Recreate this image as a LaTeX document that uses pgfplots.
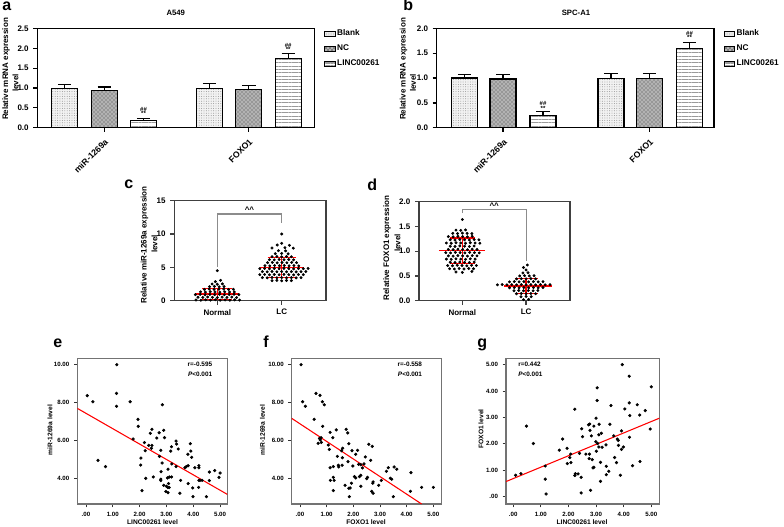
\documentclass[border=0pt]{standalone}
\usepackage{pgfplots}
\pgfplotsset{compat=1.18}
\usepackage{fontspec}
\setmainfont{Liberation Sans}
\usetikzlibrary{patterns,patterns.meta}
\newcommand{\ffs}[1]{\fontsize{#1}{#1}\selectfont\bfseries}
\pgfplotsset{
  /pgf/number format/assume math mode=true,
  barax/.style={scale only axis, anchor=south west, width=208pt, height=74.5pt,
    xmin=-0.462, xmax=1.455, ymin=0,
    xtick={0,1}, xticklabels={miR-1269a,FOXO1},
    x tick label style={rotate=45, anchor=north east, font=\ffs{6.5}},
    y tick label style={font=\ffs{6}},
    tick align=outside, tick pos=left, major tick length=3pt,
    axis line style={line width=0.9pt}, every tick/.style={black, line width=0.9pt},
    legend style={at={(1,1)}, anchor=north west, xshift=7pt, yshift=0pt, draw=none, fill=none,
      font=\ffs{6.2}, row sep=3.3pt, inner sep=0pt, nodes={inner sep=1pt}},
    legend cell align=left},
  blank/.style={ybar, bar width=19.5pt, bar shift=0pt, fill=gray!10, draw=black, line width=0.9pt,
    postaction={pattern={Dots[distance=1.8pt, radius=0.35pt]}, pattern color=gray!90},
    legend image code/.code={\draw[fill=gray!10, draw=black, line width=0.7pt, postaction={pattern={Dots[distance=1.5pt, radius=0.3pt]}, pattern color=gray!90}] (0pt,-1.8pt) rectangle (8pt,1.8pt);}},
  nc/.style={ybar, bar width=19.5pt, bar shift=0pt, fill=gray!60, draw=black, line width=0.9pt,
    postaction={pattern=crosshatch dots, pattern color=black!75},
    legend image code/.code={\draw[fill=gray!60, draw=black, line width=0.7pt, postaction={pattern=crosshatch dots, pattern color=black!75}] (0pt,-1.8pt) rectangle (8pt,1.8pt);}},
  linc/.style={ybar, bar width=19.5pt, bar shift=0pt, fill=white, draw=black, line width=0.9pt,
    postaction={pattern={Lines[angle=0, distance=2.5pt, line width=0.45pt]}, pattern color=gray!80},
    legend image code/.code={\draw[fill=white, draw=black, line width=0.7pt, postaction={pattern={Lines[angle=0, distance=1.2pt, line width=0.35pt]}, pattern color=gray!80}] (0pt,-1.8pt) rectangle (8pt,1.8pt);}},
  eb/.style={error bars/.cd, y dir=plus, y explicit,
    error bar style={black, line width=0.9pt, solid},
    error mark options={black, line width=0.9pt, mark size=5pt, rotate=90}},
  swarmax/.style={scale only axis, anchor=south west, ymin=0,
    xtick={0,1}, xticklabels={Normal,LC},
    x tick label style={font=\ffs{6}}, y tick label style={font=\ffs{6}},
    tick align=outside, tick pos=left, major tick length=3pt,
    axis line style={black!75, line width=0.9pt}, every tick/.style={black!75, line width=0.9pt}},
  pts/.style={only marks, mark=*, mark size=0.9pt, black},
  redl/.style={red, line width=1.1pt},
  spssax/.style={scale only axis, anchor=south west, height=109.3pt,
    xtick={0,1,2,3,4,5}, xticklabels={.00,1.00,2.00,3.00,4.00,5.00},
    tick label style={font=\ffs{4.6}},
    tick align=outside, tick pos=left, major tick length=2.5pt,
    axis line style={black!55, line width=0.8pt}, every tick/.style={black!80, line width=0.6pt}},
  spts/.style={only marks, mark=*, mark size=1pt, black},
}
\begin{document}
\begin{tikzpicture}[x=0.75pt,y=0.75pt]
\useasboundingbox (0,0) rectangle (784,526);

% ---------------- panel a ----------------
\begin{axis}[barax, at={(28pt,298.7pt)}, ymax=2.5,
  ytick={0,0.5,1,1.5,2,2.5}, yticklabels={0.0,0.5,1.0,1.5,2.0,2.5}]
\addplot[blank, eb] coordinates {(-0.272,0.99) +- (0,0.09) (0.728,0.99) +- (0,0.12)};
\addlegendentry{Blank}
\addplot[nc, eb] coordinates {(0,0.94) +- (0,0.085) (1,0.97) +- (0,0.10)};
\addlegendentry{NC}
\addplot[linc, eb] coordinates {(0.272,0.19) +- (0,0.05) (1.272,1.74) +- (0,0.12)};
\addlegendentry{LINC00261}
\node[font=\ffs{4.5}] at (axis cs:0.272,0.35) {**};
\node[font=\ffs{4.5}] at (axis cs:0.272,0.46) {\#\#};
\node[font=\ffs{4.5}] at (axis cs:1.272,1.96) {**};
\node[font=\ffs{4.5}] at (axis cs:1.272,2.07) {\#\#};
\end{axis}

% ---------------- panel b ----------------
\begin{axis}[barax, at={(327.5pt,298.7pt)}, xmin=-0.453, xmax=1.44, ymax=2.0,
  ytick={0,0.5,1,1.5,2}, yticklabels={0.0,0.5,1.0,1.5,2.0}]
\addplot[blank, eb] coordinates {(-0.263,1.0) +- (0,0.07) (0.737,0.99) +- (0,0.11)};
\addlegendentry{Blank}
\addplot[nc, eb] coordinates {(0,0.98) +- (0,0.09) (1,0.99) +- (0,0.11)};
\addlegendentry{NC}
\addplot[linc, eb] coordinates {(0.273,0.25) +- (0,0.07) (1.273,1.60) +- (0,0.11)};
\addlegendentry{LINC00261}
\node[font=\ffs{4.5}] at (axis cs:0.273,0.39) {**};
\node[font=\ffs{4.5}] at (axis cs:0.273,0.48) {\#\#};
\node[font=\ffs{4.5}] at (axis cs:1.273,1.81) {**};
\node[font=\ffs{4.5}] at (axis cs:1.273,1.90) {\#\#};
\end{axis}

% ---------------- panel c ----------------
\begin{axis}[swarmax, at={(130.7pt,169pt)}, width=113.8pt, height=75pt,
  xmin=-0.668, xmax=1.688, ymax=15, ytick={0,5,10,15}]
\addplot[black!45, line width=0.8pt] coordinates {(0,5.0) (0,13.0) (1,13.0) (1,11.7)};
\node[font=\ffs{6}] at (axis cs:0.5,13.7) {\textasciicircum\textasciicircum};
\addplot[pts] coordinates {
(-0.33,0.10)(-0.255,0.06)(-0.18,0.12)(-0.105,0.08)(-0.03,0.14)(0.045,0.07)(0.12,0.11)(0.195,0.06)(0.27,0.12)(0.345,0.09)
(-0.30,0.52)(-0.225,0.48)(-0.15,0.55)(-0.075,0.50)(0.00,0.46)(0.075,0.53)(0.15,0.49)(0.225,0.54)(0.30,0.47)
(-0.34,0.90)(-0.265,0.94)(-0.19,0.88)(-0.115,0.93)(-0.04,0.90)(0.035,0.95)(0.11,0.89)(0.185,0.92)(0.26,0.96)(0.335,0.90)
(-0.26,1.32)(-0.185,1.28)(-0.11,1.34)(-0.035,1.30)(0.04,1.27)(0.115,1.33)(0.19,1.29)(0.265,1.31)
(-0.20,1.70)(-0.125,1.74)(-0.05,1.68)(0.025,1.72)(0.10,1.75)(0.175,1.69)(0.25,1.71)
(-0.12,2.10)(-0.045,2.14)(0.03,2.08)(0.105,2.12)
(-0.08,2.50)(0.00,2.46)(0.08,2.52)
(-0.03,2.85)(0.05,3.05)(0.00,4.50)
};
\addplot[pts] coordinates {
(0.85,3.00)(0.925,3.04)(1.00,2.98)(1.075,3.03)(1.15,3.00)
(0.70,3.45)(0.775,3.42)(0.85,3.48)(0.925,3.44)(1.00,3.47)(1.075,3.43)(1.15,3.46)(1.225,3.42)(1.30,3.45)
(0.66,3.90)(0.735,3.93)(0.81,3.88)(0.885,3.92)(0.96,3.89)(1.035,3.94)(1.11,3.90)(1.185,3.87)(1.26,3.92)(1.335,3.90)
(0.70,4.35)(0.775,4.32)(0.85,4.38)(0.925,4.34)(1.00,4.37)(1.075,4.33)(1.15,4.36)(1.225,4.32)(1.30,4.35)(1.375,4.37)
(0.66,4.80)(0.735,4.83)(0.81,4.78)(0.885,4.82)(0.96,4.79)(1.035,4.84)(1.11,4.80)(1.185,4.77)(1.26,4.82)(1.335,4.80)(1.41,4.83)
(0.74,5.25)(0.815,5.22)(0.89,5.28)(0.965,5.24)(1.04,5.27)(1.115,5.23)(1.19,5.26)(1.265,5.22)
(0.78,5.70)(0.855,5.73)(0.93,5.68)(1.005,5.72)(1.08,5.69)(1.155,5.74)(1.23,5.70)
(0.81,6.15)(0.885,6.12)(0.96,6.18)(1.035,6.14)(1.11,6.17)(1.185,6.13)
(0.85,6.60)(0.925,6.63)(1.00,6.58)(1.075,6.62)(1.15,6.59)
(0.90,7.05)(1.00,7.08)(1.10,7.03)
(0.95,7.50)(1.06,7.47)
(0.85,7.90)(1.05,7.95)(1.18,7.88)
(0.93,8.35)(1.12,8.30)(1.00,8.60)(1.00,10.00)
};
\addplot[redl] coordinates {(-0.34,1.0) (0.34,1.0)};
\addplot[redl] coordinates {(-0.23,1.85) (0.23,1.85)};
\addplot[redl] coordinates {(-0.23,0.15) (0.23,0.15)};
\addplot[redl] coordinates {(0,0.15) (0,1.85)};
\addplot[redl] coordinates {(0.67,5.0) (1.34,5.0)};
\addplot[redl] coordinates {(0.78,6.5) (1.22,6.5)};
\addplot[redl] coordinates {(0.78,3.5) (1.22,3.5)};
\addplot[redl] coordinates {(1,3.5) (1,6.5)};
\end{axis}

% ---------------- panel d ----------------
\begin{axis}[swarmax, at={(314.25pt,169pt)}, width=113.3pt, height=74.25pt,
  xmin=-0.68, xmax=1.69, ymax=2, ytick={0,0.5,1,1.5,2}, yticklabels={0.0,0.5,1.0,1.5,2.0}]
\addplot[black!45, line width=0.8pt] coordinates {(0,1.77) (0,1.846) (1,1.846) (1,0.80)};
\node[font=\ffs{6}] at (axis cs:0.5,1.91) {\textasciicircum\textasciicircum};
\addplot[pts] coordinates {
(-0.10,0.58)(0.00,0.57)(0.15,0.59)
(-0.20,0.645)(-0.125,0.64)(-0.05,0.65)(0.025,0.64)(0.10,0.65)(0.175,0.645)
(-0.23,0.71)(-0.155,0.705)(-0.08,0.715)(-0.005,0.71)(0.07,0.705)(0.145,0.715)(0.22,0.71)
(-0.19,0.775)(-0.115,0.77)(-0.04,0.78)(0.035,0.775)(0.11,0.77)(0.185,0.78)
(-0.25,0.84)(-0.175,0.835)(-0.10,0.845)(-0.025,0.84)(0.05,0.835)(0.125,0.845)(0.20,0.84)
(-0.22,0.905)(-0.145,0.90)(-0.07,0.91)(0.005,0.905)(0.08,0.90)(0.155,0.91)(0.23,0.905)
(-0.26,0.97)(-0.185,0.965)(-0.11,0.975)(-0.035,0.97)(0.04,0.965)(0.115,0.975)(0.19,0.97)(0.265,0.965)
(-0.22,1.035)(-0.145,1.03)(-0.07,1.04)(0.005,1.035)(0.08,1.03)(0.155,1.04)(0.23,1.035)
(-0.19,1.10)(-0.115,1.095)(-0.04,1.105)(0.035,1.10)(0.11,1.095)(0.185,1.105)
(-0.25,1.165)(-0.175,1.16)(-0.10,1.17)(-0.025,1.165)(0.05,1.16)(0.125,1.17)(0.20,1.165)(0.275,1.16)
(-0.19,1.23)(-0.115,1.225)(-0.04,1.235)(0.035,1.23)(0.11,1.225)(0.185,1.235)(0.26,1.23)
(-0.22,1.295)(-0.145,1.29)(-0.07,1.30)(0.005,1.295)(0.08,1.29)(0.155,1.30)
(-0.15,1.36)(-0.075,1.355)(0.00,1.365)(0.075,1.36)(0.15,1.355)
(-0.10,1.425)(-0.025,1.42)(0.05,1.43)(0.00,1.64)
};
\addplot[pts] coordinates {
(0.96,0.02)(1.04,0.025)
(0.92,0.08)(1.00,0.085)(1.08,0.08)
(0.85,0.14)(0.925,0.145)(1.00,0.14)(1.075,0.145)(1.15,0.14)
(0.81,0.20)(0.885,0.205)(0.96,0.20)(1.035,0.205)(1.11,0.20)(1.185,0.205)
(0.74,0.26)(0.815,0.265)(0.89,0.26)(0.965,0.265)(1.04,0.26)(1.115,0.265)(1.19,0.26)(1.265,0.265)
(0.55,0.32)(0.625,0.325)(0.70,0.32)(0.775,0.325)(0.85,0.32)(0.925,0.325)(1.00,0.32)(1.075,0.325)(1.15,0.32)(1.225,0.325)(1.30,0.32)(1.375,0.325)
(0.74,0.38)(0.815,0.385)(0.89,0.38)(0.965,0.385)(1.04,0.38)(1.115,0.385)(1.19,0.38)(1.265,0.385)
(0.85,0.44)(0.925,0.445)(1.00,0.44)(1.075,0.445)(1.15,0.44)
(0.90,0.50)(0.975,0.505)(1.05,0.50)(1.125,0.505)
(0.95,0.56)(1.03,0.565)(1.00,0.62)(0.96,0.67)(1.02,0.72)
};
\addplot[redl] coordinates {(-0.37,1.01) (0.35,1.01)};
\addplot[redl] coordinates {(-0.2,1.27) (0.2,1.27)};
\addplot[redl] coordinates {(-0.2,0.75) (0.2,0.75)};
\addplot[redl] coordinates {(0,0.75) (0,1.27)};
\addplot[redl] coordinates {(0.66,0.30) (1.40,0.30)};
\addplot[redl] coordinates {(0.82,0.45) (1.18,0.45)};
\addplot[redl] coordinates {(0.82,0.15) (1.18,0.15)};
\addplot[redl] coordinates {(1,0.15) (1,0.45)};
\end{axis}

% ---------------- panel e ----------------
\begin{axis}[spssax, at={(58pt,16.5pt)}, width=112.5pt,
  xmin=-0.32, xmax=5.27, ymin=2.64, ymax=10.35,
  ytick={4,6,8,10}, yticklabels={4.00,6.00,8.00,10.00}]
\addplot[spts] coordinates {
(1.15,10.01)(0.05,8.37)(0.26,8.05)(1.14,8.49)(1.14,7.81)(1.65,8.05)(2.85,7.89)(1.94,7.12)(1.95,6.75)(1.76,6.08)
(0.45,4.95)(0.73,4.62)(2.46,6.59)(2.40,6.38)(2.64,6.13)(2.73,6.41)(2.90,6.54)(2.93,6.15)(2.18,5.89)(2.34,5.74)
(2.46,5.74)(2.21,5.46)(2.44,5.59)(2.79,5.48)(3.19,5.67)(3.36,5.97)(3.38,5.81)(3.44,5.55)(3.16,5.44)(3.89,5.83)
(3.91,5.44)(3.80,5.27)(3.94,5.11)(2.05,5.07)(2.04,4.70)(2.74,5.16)(2.84,4.81)(3.20,4.76)(3.36,4.62)(3.69,4.56)
(3.74,4.62)(3.81,4.67)(4.06,4.56)(4.21,4.67)(4.21,4.56)(3.06,4.48)(3.04,4.02)(3.11,4.07)(3.19,4.07)(2.80,4.35)
(2.51,4.07)(2.23,4.00)(2.79,3.88)(2.79,3.95)(2.90,3.63)(3.08,3.72)(3.53,3.89)(3.00,3.58)(3.05,3.52)(3.10,3.51)
(2.98,3.30)(3.06,3.24)(2.09,3.35)(3.50,3.21)(3.81,3.72)(3.98,3.49)(3.99,3.03)(4.49,3.03)(4.21,3.89)(4.25,3.89)
(4.33,3.89)(4.20,3.52)(4.60,4.33)(4.80,4.41)(5.00,4.28)(4.96,4.05)(4.60,3.88)
};
\addplot[red, line width=0.8pt] coordinates {(-0.32,7.70) (5.27,3.15)};
\node[font=\ffs{4.8}, anchor=east] at (rel axis cs:0.93,0.956) {r=-0.595};
\node[font=\ffs{4.8}, anchor=east] at (rel axis cs:0.93,0.892) {\textit{P}<0.001};
\end{axis}

% ---------------- panel f ----------------
\begin{axis}[spssax, at={(218.8pt,16.5pt)}, width=112pt,
  xmin=-0.31, xmax=5.29, ymin=2.64, ymax=10.35,
  ytick={4,6,8,10}, yticklabels={4.00,6.00,8.00,10.00}]
\addplot[spts] coordinates {
(0.04,10.01)(0.10,8.05)(0.20,7.81)(0.60,8.49)(0.75,8.39)(0.84,8.05)(0.91,7.89)(0.53,7.12)(0.85,6.75)(0.73,6.11)
(0.76,6.03)(0.80,5.90)(0.68,5.85)(0.79,6.15)(1.13,6.43)(1.36,6.56)(1.73,6.59)(1.79,6.40)(1.23,6.15)(1.06,5.76)
(1.10,5.53)(1.60,5.59)(1.56,5.46)(1.83,5.83)(1.95,5.46)(2.16,5.48)(2.09,5.27)(2.58,5.80)(2.71,5.69)(2.45,5.13)
(2.65,4.95)(1.59,5.09)(1.40,5.16)(1.44,4.69)(1.45,4.60)(1.58,4.69)(1.13,4.56)(1.25,4.62)(1.80,4.88)(1.98,4.65)
(2.20,4.74)(2.28,4.72)(2.34,4.55)(2.40,4.76)(2.28,4.16)(2.23,4.09)(2.04,4.09)(2.09,4.02)(2.53,4.05)(2.50,3.98)
(2.74,3.81)(2.73,3.74)(1.25,4.05)(1.28,3.89)(1.14,3.89)(1.93,3.74)(1.69,3.63)(1.88,3.49)(1.83,3.47)(2.28,3.58)
(2.69,3.31)(2.74,3.21)(2.95,3.63)(3.05,3.89)(3.24,4.37)(3.31,4.56)(3.53,4.60)(3.63,4.48)(3.39,4.00)(3.44,3.95)
(1.25,3.35)(1.85,3.03)(3.50,3.03)(4.14,3.31)(4.16,4.30)(4.56,3.52)(5.00,3.52)
};
\addplot[red, line width=0.8pt] coordinates {(-0.31,7.17) (4.56,2.64)};
\node[font=\ffs{4.8}, anchor=east] at (rel axis cs:0.904,0.956) {r=-0.558};
\node[font=\ffs{4.8}, anchor=east] at (rel axis cs:0.904,0.892) {\textit{P}<0.001};
\end{axis}

% ---------------- panel g ----------------
\begin{axis}[spssax, at={(379.5pt,16.5pt)}, width=115pt,
  xmin=-0.26, xmax=5.29, ymin=-0.28, ymax=5.24,
  ytick={0,1,2,3,4,5}, yticklabels={.00,1.00,2.00,3.00,4.00,5.00}]
\addplot[spts] coordinates {
(3.95,5.00)(4.20,4.56)(5.00,4.16)(3.04,4.12)(3.04,3.64)(2.23,3.31)(3.54,3.45)(4.20,3.55)(4.04,3.32)(4.49,3.48)
(4.78,3.26)(4.22,3.07)(4.58,3.09)(4.96,2.56)(0.48,2.67)(0.73,2.01)(2.48,2.57)(2.51,2.27)(2.73,2.72)(2.77,2.75)
(2.78,2.51)(2.92,2.67)(2.83,2.30)(3.00,2.97)(3.11,2.74)(3.19,2.40)(3.10,2.34)(3.50,2.74)(3.92,2.49)(3.64,2.30)
(3.77,2.18)(3.80,2.13)(2.99,2.08)(3.06,2.01)(3.10,1.88)(3.22,1.87)(3.01,1.72)(3.36,1.96)(3.81,1.94)(3.99,1.88)
(3.92,1.79)(4.21,2.25)(1.79,2.18)(1.67,1.76)(1.95,1.83)(2.05,1.48)(2.08,1.61)(2.09,1.29)(1.96,1.25)(2.40,1.64)
(2.63,1.61)(2.76,1.61)(2.75,1.44)(2.86,1.40)(3.67,1.48)(3.74,1.29)(3.16,1.30)(2.92,1.11)(2.89,1.09)(3.37,1.15)
(3.46,0.96)(3.37,0.83)(3.88,0.81)(4.32,1.17)(4.59,1.33)(2.25,0.87)(2.23,0.80)(2.35,0.86)(2.46,0.73)(1.16,1.16)
(1.16,0.66)(1.19,0.10)(2.46,0.14)(2.80,0.24)(3.16,0.58)(0.09,0.81)(0.28,0.87)
};
\addplot[red, line width=0.8pt] coordinates {(-0.26,0.57) (5.29,2.97)};
\node[font=\ffs{4.8}, anchor=west] at (rel axis cs:0.05,0.956) {r=0.442};
\node[font=\ffs{4.8}, anchor=west] at (rel axis cs:0.05,0.892) {\textit{P}<0.001};
\end{axis}

% ---------------- outer labels ----------------
\node[font=\ffs{12}, anchor=base west, inner sep=0] at (2,515) {a};
\node[font=\ffs{12}, anchor=base west, inner sep=0] at (403,515) {b};
\node[font=\ffs{12}, anchor=base west, inner sep=0] at (124,338) {c};
\node[font=\ffs{12}, anchor=base west, inner sep=0] at (367,336) {d};
\node[font=\ffs{12}, anchor=base west, inner sep=0] at (53,179) {e};
\node[font=\ffs{12}, anchor=base west, inner sep=0] at (263,179) {f};
\node[font=\ffs{12}, anchor=base west, inner sep=0] at (477,179) {g};

\node[font=\ffs{5.8}] at (175.8,512.7) {A549};
\node[font=\ffs{5.8}] at (576,512.7) {SPC-A1};

\node[font=\ffs{6}, rotate=90] at (6,457) {Relative mRNA expression};
\node[font=\ffs{6}, rotate=90] at (15.5,443) {level};
\node[font=\ffs{6}, rotate=90] at (403.5,457) {Relative mRNA expression};
\node[font=\ffs{6}, rotate=90] at (413,443) {level};
\node[font=\ffs{6}, rotate=90] at (144.5,281) {Relative miR-1269a expression};
\node[font=\ffs{6}, rotate=90] at (154.5,282) {level};
\node[font=\ffs{6}, rotate=90] at (387,278) {Relative FOXO1 expression};
\node[font=\ffs{6}, rotate=90] at (397.5,283) {level};

\node[font=\ffs{5}, rotate=90] at (50,96) {miR-1269a level};
\node[font=\ffs{5}] at (152.5,3.8) {LINC00261 level};
\node[font=\ffs{5}, rotate=90] at (262.5,96) {miR-1269a level};
\node[font=\ffs{5}] at (366,3.8) {FOXO1 level};
\node[font=\ffs{5}, rotate=90] at (481,97) {FOXO1 level};
\node[font=\ffs{5}] at (582,3.8) {LINC00261 level};
\end{tikzpicture}
\end{document}
